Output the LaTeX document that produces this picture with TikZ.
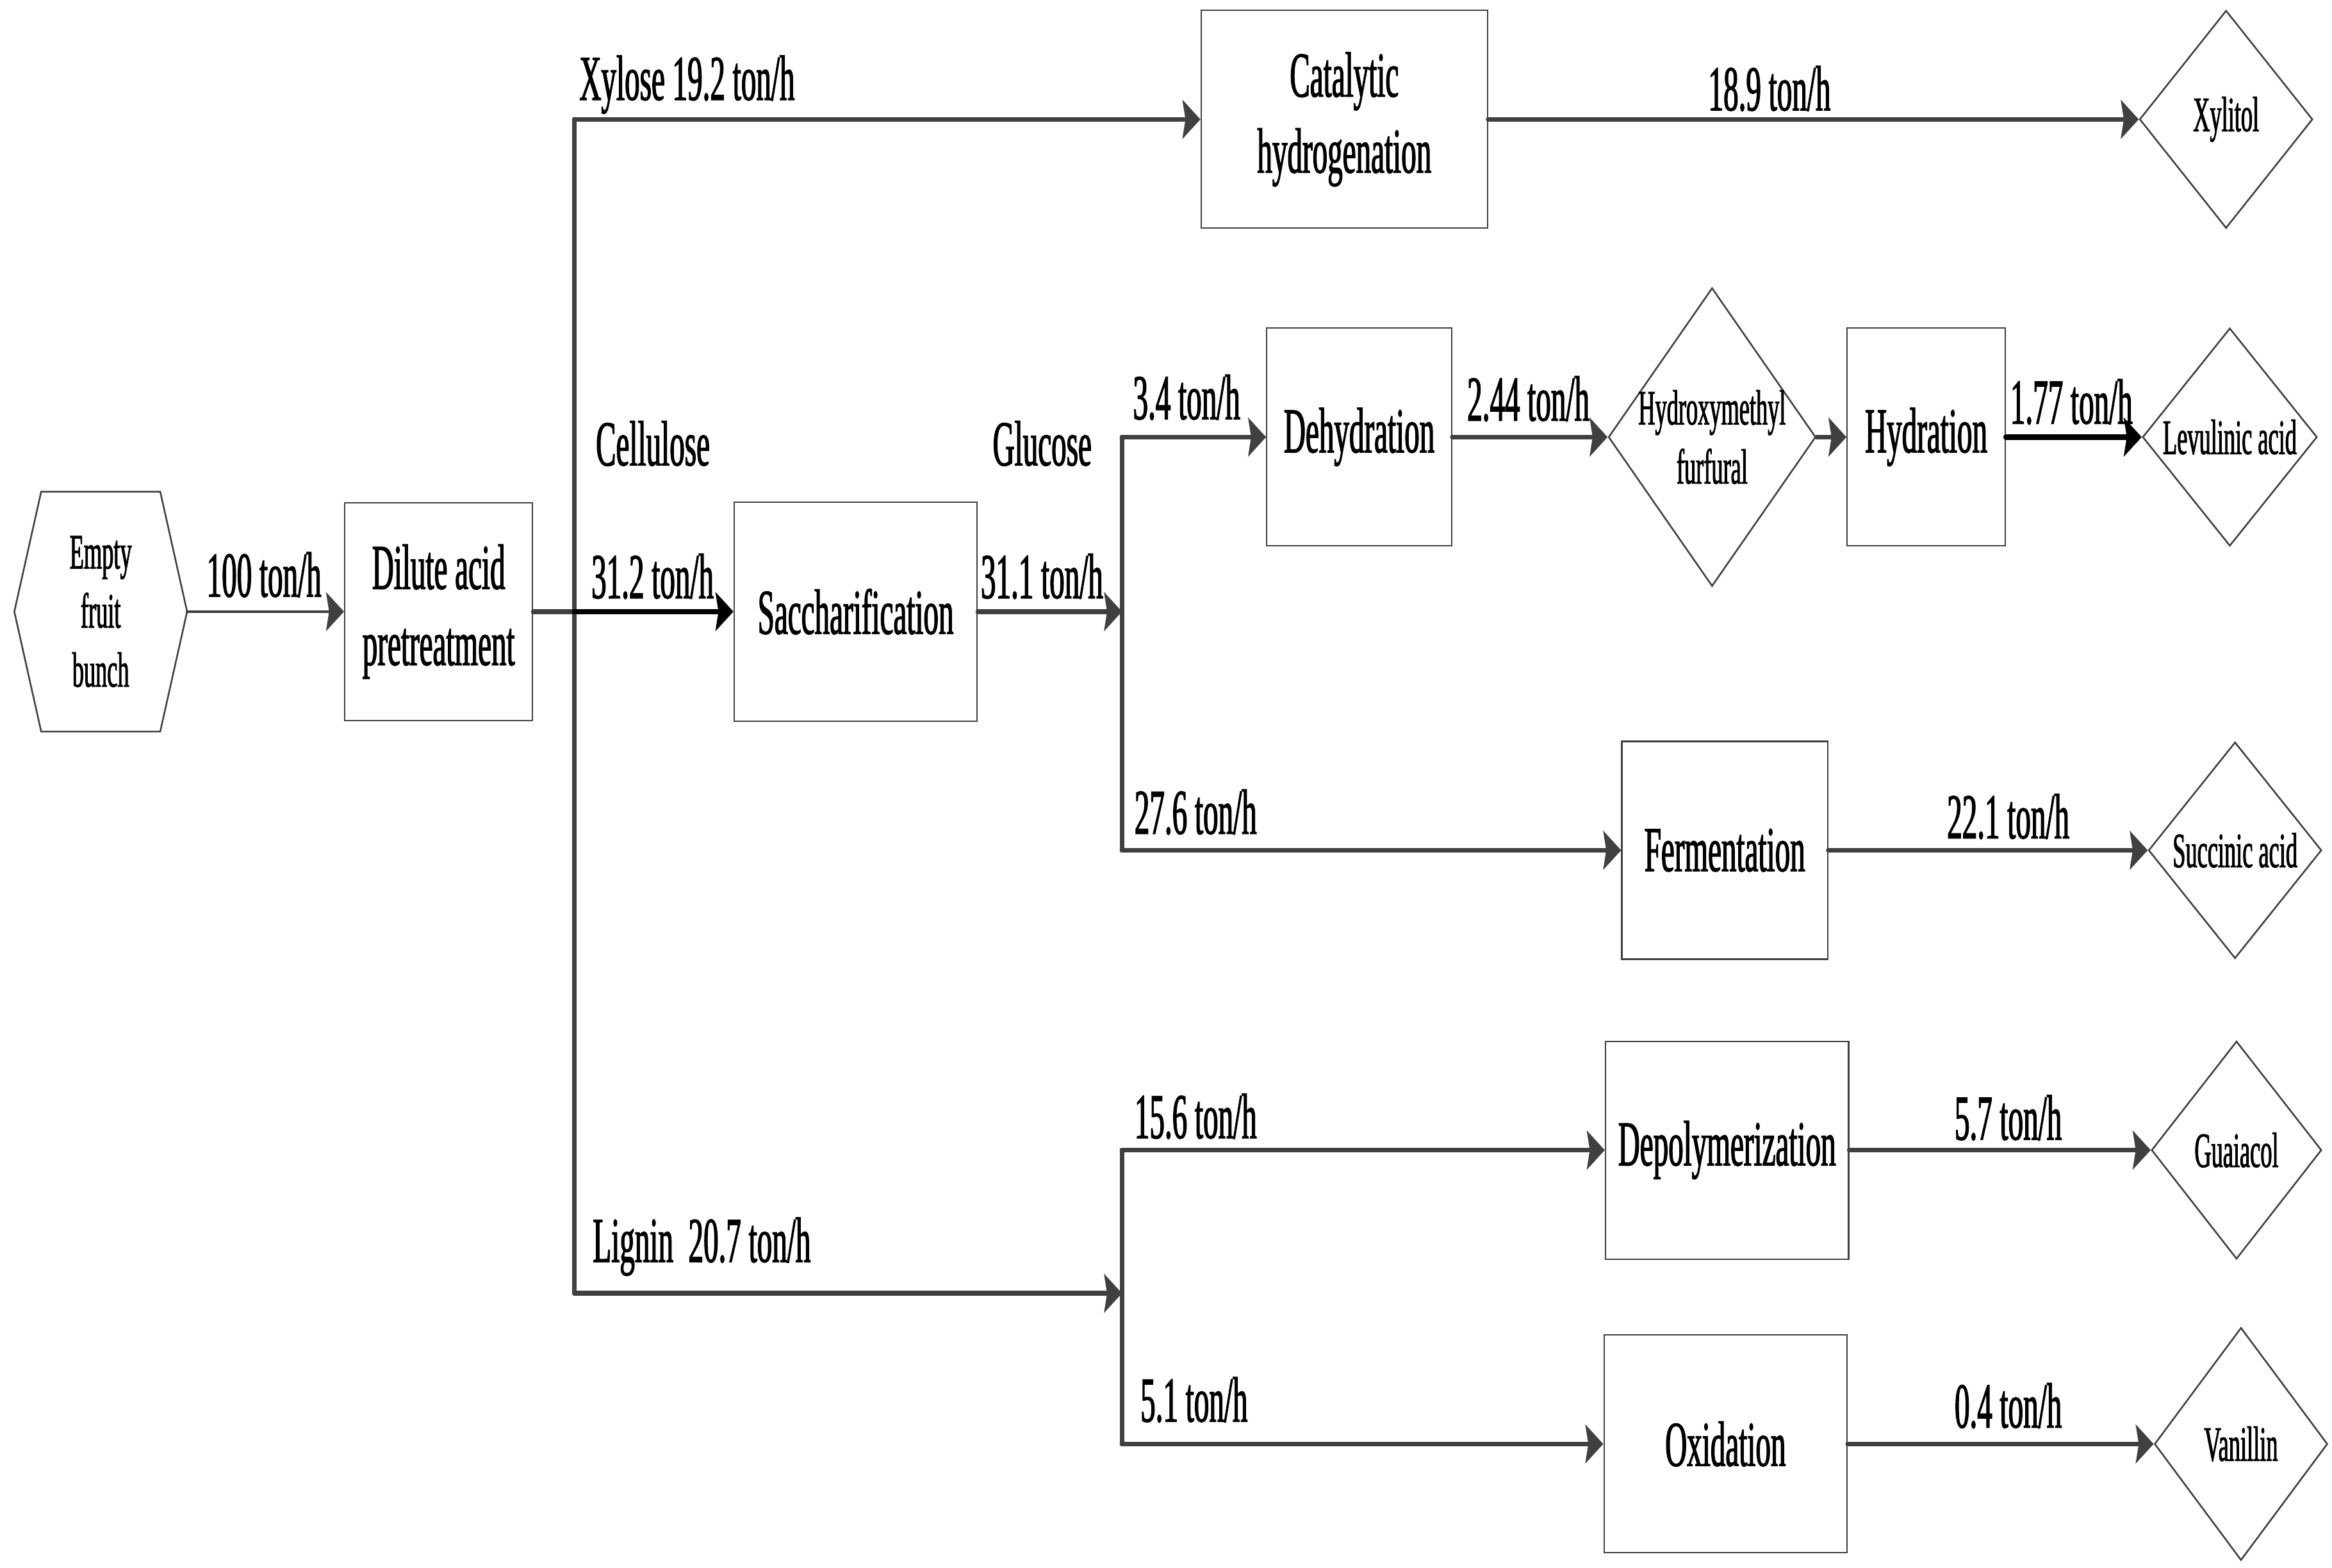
\documentclass[tikz,border=0pt]{standalone}
\usepackage{fontspec}
\setmainfont{Liberation Serif}[FakeStretch=0.47,FakeBold=1.2]
\usetikzlibrary{arrows.meta,shapes.geometric}
\definecolor{linec}{HTML}{404040}
\newcommand{\bigtxt}{\fontsize{21.5}{25.5}\selectfont}
\newcommand{\smalltxt}{\fontsize{16.6}{19.8}\selectfont}
\begin{document}
\begin{tikzpicture}[x=0.5pt,y=-0.5pt,
 box/.style={draw=linec, line width=0.45pt, rectangle, inner sep=0pt, align=center, font=\bigtxt},
 dia/.style={draw=linec, line width=0.55pt, diamond, inner sep=0pt},
 flow/.style={draw=linec, line width=1.6pt, line cap=round},
 tip/.style={-{Stealth[length=6pt,width=13pt,inset=1pt]}},
 lbl/.style={font=\bigtxt, inner sep=0pt, anchor=base west},
 clbl/.style={font=\bigtxt, inner sep=0pt, anchor=base},
 dtxt/.style={font=\smalltxt, align=center}
]
\useasboundingbox[fill=white] (0,0) rectangle (1563,1051);

% start node (hexagon)
\node[inner sep=0pt, minimum width=57.5pt, minimum height=80pt, align=center, font=\smalltxt] (efb) at (67.5,410) {Empty\\fruit\\bunch};
\draw[linec, line width=0.55pt] (efb.west) -- ([xshift=9pt]efb.north west) -- ([xshift=-9pt]efb.north east) -- (efb.east) -- ([xshift=-9pt]efb.south east) -- ([xshift=9pt]efb.south west) -- cycle;

% process boxes
\node[box, minimum width=63pt, minimum height=73pt] (dil) at (294,410) {Dilute acid\\pretreatment};
\node[box, minimum width=96pt, minimum height=73pt] (cat) at (901,80) {Catalytic\\hydrogenation};
\node[box, minimum width=81.5pt, minimum height=73.5pt] (sac) at (573.5,410) {Saccharification};
\node[box, minimum width=62pt, minimum height=73pt] (deh) at (911,293) {Dehydration};
\node[box, minimum width=53pt, minimum height=73pt] (hyd) at (1291,293) {Hydration};
\node[box, minimum width=69pt, minimum height=73pt] (fer) at (1156,570) {Fermentation};
\node[box, minimum width=81.5pt, minimum height=73pt] (dep) at (1157.5,771) {Depolymerization};
\node[box, minimum width=81.5pt, minimum height=73pt] (oxi) at (1156.5,968) {Oxidation};

% product diamonds
\node[dia, minimum width=58pt, minimum height=73pt, label={[dtxt]center:Xylitol}] (xyl) at (1492,80) {};
\node[dia, minimum width=69.5pt, minimum height=100pt, label={[dtxt]center:Hydroxymethyl\\furfural}] (hmf) at (1147.5,293) {};
\node[dia, minimum width=58.5pt, minimum height=73pt, label={[dtxt]center:Levulinic acid}] (lev) at (1494.5,293) {};
\node[dia, minimum width=58pt, minimum height=72.5pt, label={[dtxt]center:Succinic acid}] (suc) at (1498,570) {};
\node[dia, minimum width=57pt, minimum height=73pt, label={[dtxt]center:Guaiacol}] (gua) at (1499,771) {};
\node[dia, minimum width=58pt, minimum height=78pt, label={[dtxt]center:Vanillin}] (van) at (1502,968) {};

% junction coordinates
\coordinate (tj) at (385,410);
\coordinate (tt) at (385,80);
\coordinate (tb) at (385,867);
\coordinate (gj) at (752,410);
\coordinate (gt) at (752,293);
\coordinate (gb) at (752,570);
\coordinate (lj) at (752,867);
\coordinate (lt) at (752,771);
\coordinate (lb) at (752,968);

% connectors
\draw[flow, line width=0.85pt, tip] (efb.east) -- (dil.west);
\draw[flow] (dil.east) -- (tj);
\draw[flow] (tt) -- (tb);
\draw[flow, tip] (tt) -- (cat.west);
\draw[flow, tip] (cat.east) -- (xyl.west);
\draw[flow, tip, draw=black, line width=1.8pt] (tj) -- (sac.west);
\draw[flow, tip] (sac.east) -- (gj);
\draw[flow] (gt) -- (gb);
\draw[flow, tip] (gt) -- (deh.west);
\draw[flow, tip] (deh.east) -- (hmf.west);
\draw[flow, tip] (hmf.east) -- (hyd.west);
\draw[flow, tip, draw=black, line width=1.8pt] (hyd.east) -- (lev.west);
\draw[flow, tip] (gb) -- (fer.west);
\draw[flow, tip] (fer.east) -- (suc.west);
\draw[flow, tip] (tb) -- (lj);
\draw[flow] (lt) -- (lb);
\draw[flow, tip] (lt) -- (dep.west);
\draw[flow, tip] (dep.east) -- (gua.west);
\draw[flow, tip] (lb) -- (oxi.west);
\draw[flow, tip] (oxi.east) -- (van.west);

% flow labels
\node[clbl] (l100) at (177,400) {100 ton/h};
\node[lbl] (lxyl) at (388,67) {Xylose 19.2 ton/h};
\node[clbl] (l189) at (1186,74) {18.9 ton/h};
\node[lbl] (lcel) at (399,312) {Cellulose};
\node[lbl] (l312) at (396,401) {31.2 ton/h};
\node[lbl] (lglu) at (665,312) {Glucose};
\node[lbl] (l311) at (657,401) {31.1 ton/h};
\node[lbl] (l34) at (759,281) {3.4 ton/h};
\node[lbl] (l244) at (983,282) {2.44 ton/h};
\node[lbl] (l177) at (1347,284) {1.77 ton/h};
\node[lbl] (l276) at (760,559) {27.6 ton/h};
\node[clbl] (l221) at (1346,562) {22.1 ton/h};
\node[lbl] (l156) at (760,763) {15.6 ton/h};
\node[clbl] (l57) at (1346,764) {5.7 ton/h};
\node[lbl] (llig) at (397,846) {Lignin\ \ 20.7 ton/h};
\node[lbl] (l51) at (764,953) {5.1 ton/h};
\node[clbl] (l04) at (1346,957) {0.4 ton/h};
\end{tikzpicture}
\end{document}
